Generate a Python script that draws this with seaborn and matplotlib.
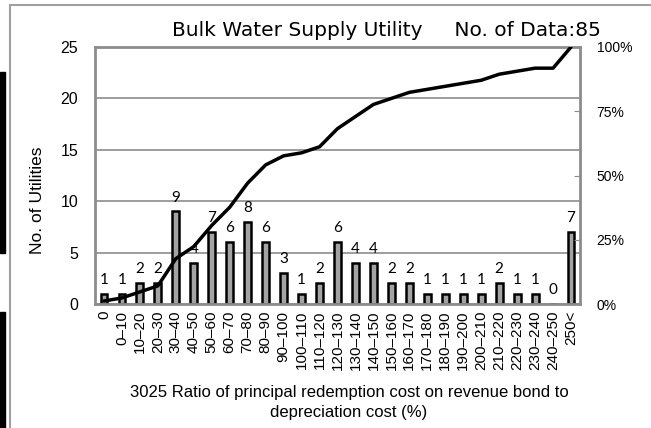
import numpy as np
import matplotlib
matplotlib.use("Agg")
import matplotlib.pyplot as plt
import seaborn as sns
from matplotlib.lines import Line2D
from matplotlib.patches import Rectangle
from matplotlib.ticker import FixedLocator

# Data
categories = ["0", "0–10", "10–20", "20–30", "30–40", "40–50", "50–60", "60–70",
              "70–80", "80–90", "90–100", "100–110", "110–120", "120–130", "130–140",
              "140–150", "150–160", "160–170", "170–180", "180–190", "190–200",
              "200–210", "210–220", "220–230", "230–240", "240–250", "250<"]
counts = [1, 1, 2, 2, 9, 4, 7, 6, 8, 6, 3, 1, 2, 6, 4, 4, 2, 2, 1, 1, 1, 1, 2, 1, 1, 0, 7]
left_ticks = [0, 5, 10, 15, 20, 25]
right_ticks = [0, 25, 50, 75, 100]
right_labels = ["0%", "25%", "50%", "75%", "100%"]

# cumulative share (%) for the line
cum_pct = np.cumsum(counts) / np.sum(counts) * 100

sns.set_style("white")
plt.rcParams['font.family'] = ['Liberation Sans', 'DejaVu Sans']
plt.rcParams['text.color'] = 'black'
plt.rcParams['xtick.color'] = 'black'
plt.rcParams['ytick.color'] = 'black'

fig = plt.figure(figsize=(6.51, 4.28), dpi=100)
ax = fig.add_axes([95 / 651, 1 - 304 / 428, 485 / 651, 257 / 428])

sns.barplot(x=categories, y=counts, color="#a3a3a3", edgecolor="black",
            linewidth=1.8, width=0.38, saturation=1, ax=ax)
ax.set_ylim(0, 25)
ax.set_xlim(-0.5, len(categories) - 0.5)
ax.yaxis.set_major_locator(FixedLocator(left_ticks))
ax.grid(axis="y", color="#8c8c8c", linewidth=1.2)
ax.set_axisbelow(True)
for s in ax.spines.values():
    s.set_color("#8c8c8c")
    s.set_linewidth(2)
ax.tick_params(axis="y", length=0, labelsize=11.5, pad=12)
ax.tick_params(axis="x", length=0, labelsize=11, rotation=90, pad=5)
ax.set_xlabel("")
ax.set_ylabel("")

# value labels above bars
for i, c in enumerate(counts):
    ax.annotate(str(c), (i, c), xytext=(0, 5), textcoords="offset points",
                ha="center", va="bottom", fontsize=11, family="Lato")

# cumulative line on the right axis
ax2 = ax.twinx()
sns.lineplot(x=categories, y=cum_pct, color="black", linewidth=2.5, sort=False, ax=ax2)
ax2.set_ylim(0, 100)
ax2.yaxis.set_major_locator(FixedLocator(right_ticks))
ax2.set_yticklabels(right_labels)
ax2.tick_params(axis="y", direction="in", length=4, color="#8c8c8c",
                labelsize=10, pad=12)
ax2.set_ylabel("")
for s in ax2.spines.values():
    s.set_visible(False)

# title and axis labels
fig.text(172 / 651, 1 - 31 / 428, "Bulk Water Supply Utility     No. of Data:85",
         fontsize=14.5, va="center", ha="left", family="DejaVu Sans")
fig.text(38 / 651, 1 - 200 / 428, "No. of Utilities", rotation=90,
         fontsize=12.5, va="center", ha="center")
fig.text(349 / 651, 1 - 392 / 428,
         "3025 Ratio of principal redemption cost on revenue bond to",
         fontsize=12, va="center", ha="center")
fig.text(349 / 651, 1 - 413 / 428, "depreciation cost (%)",
         fontsize=12, va="center", ha="center")

# outer frame and scan edge marks
fig.add_artist(Line2D([10 / 651, 10 / 651], [0, 1 - 5 / 428], color="#a0a0a0", lw=1.5))
fig.add_artist(Line2D([10 / 651, 1], [1 - 5 / 428, 1 - 5 / 428], color="#a0a0a0", lw=1.5))
fig.add_artist(Rectangle((0, 1 - 253 / 428), 5 / 651, 181 / 428, color="black"))
fig.add_artist(Rectangle((0, 0), 5 / 651, 116 / 428, color="black"))

fig.savefig("out.png", dpi=100)
